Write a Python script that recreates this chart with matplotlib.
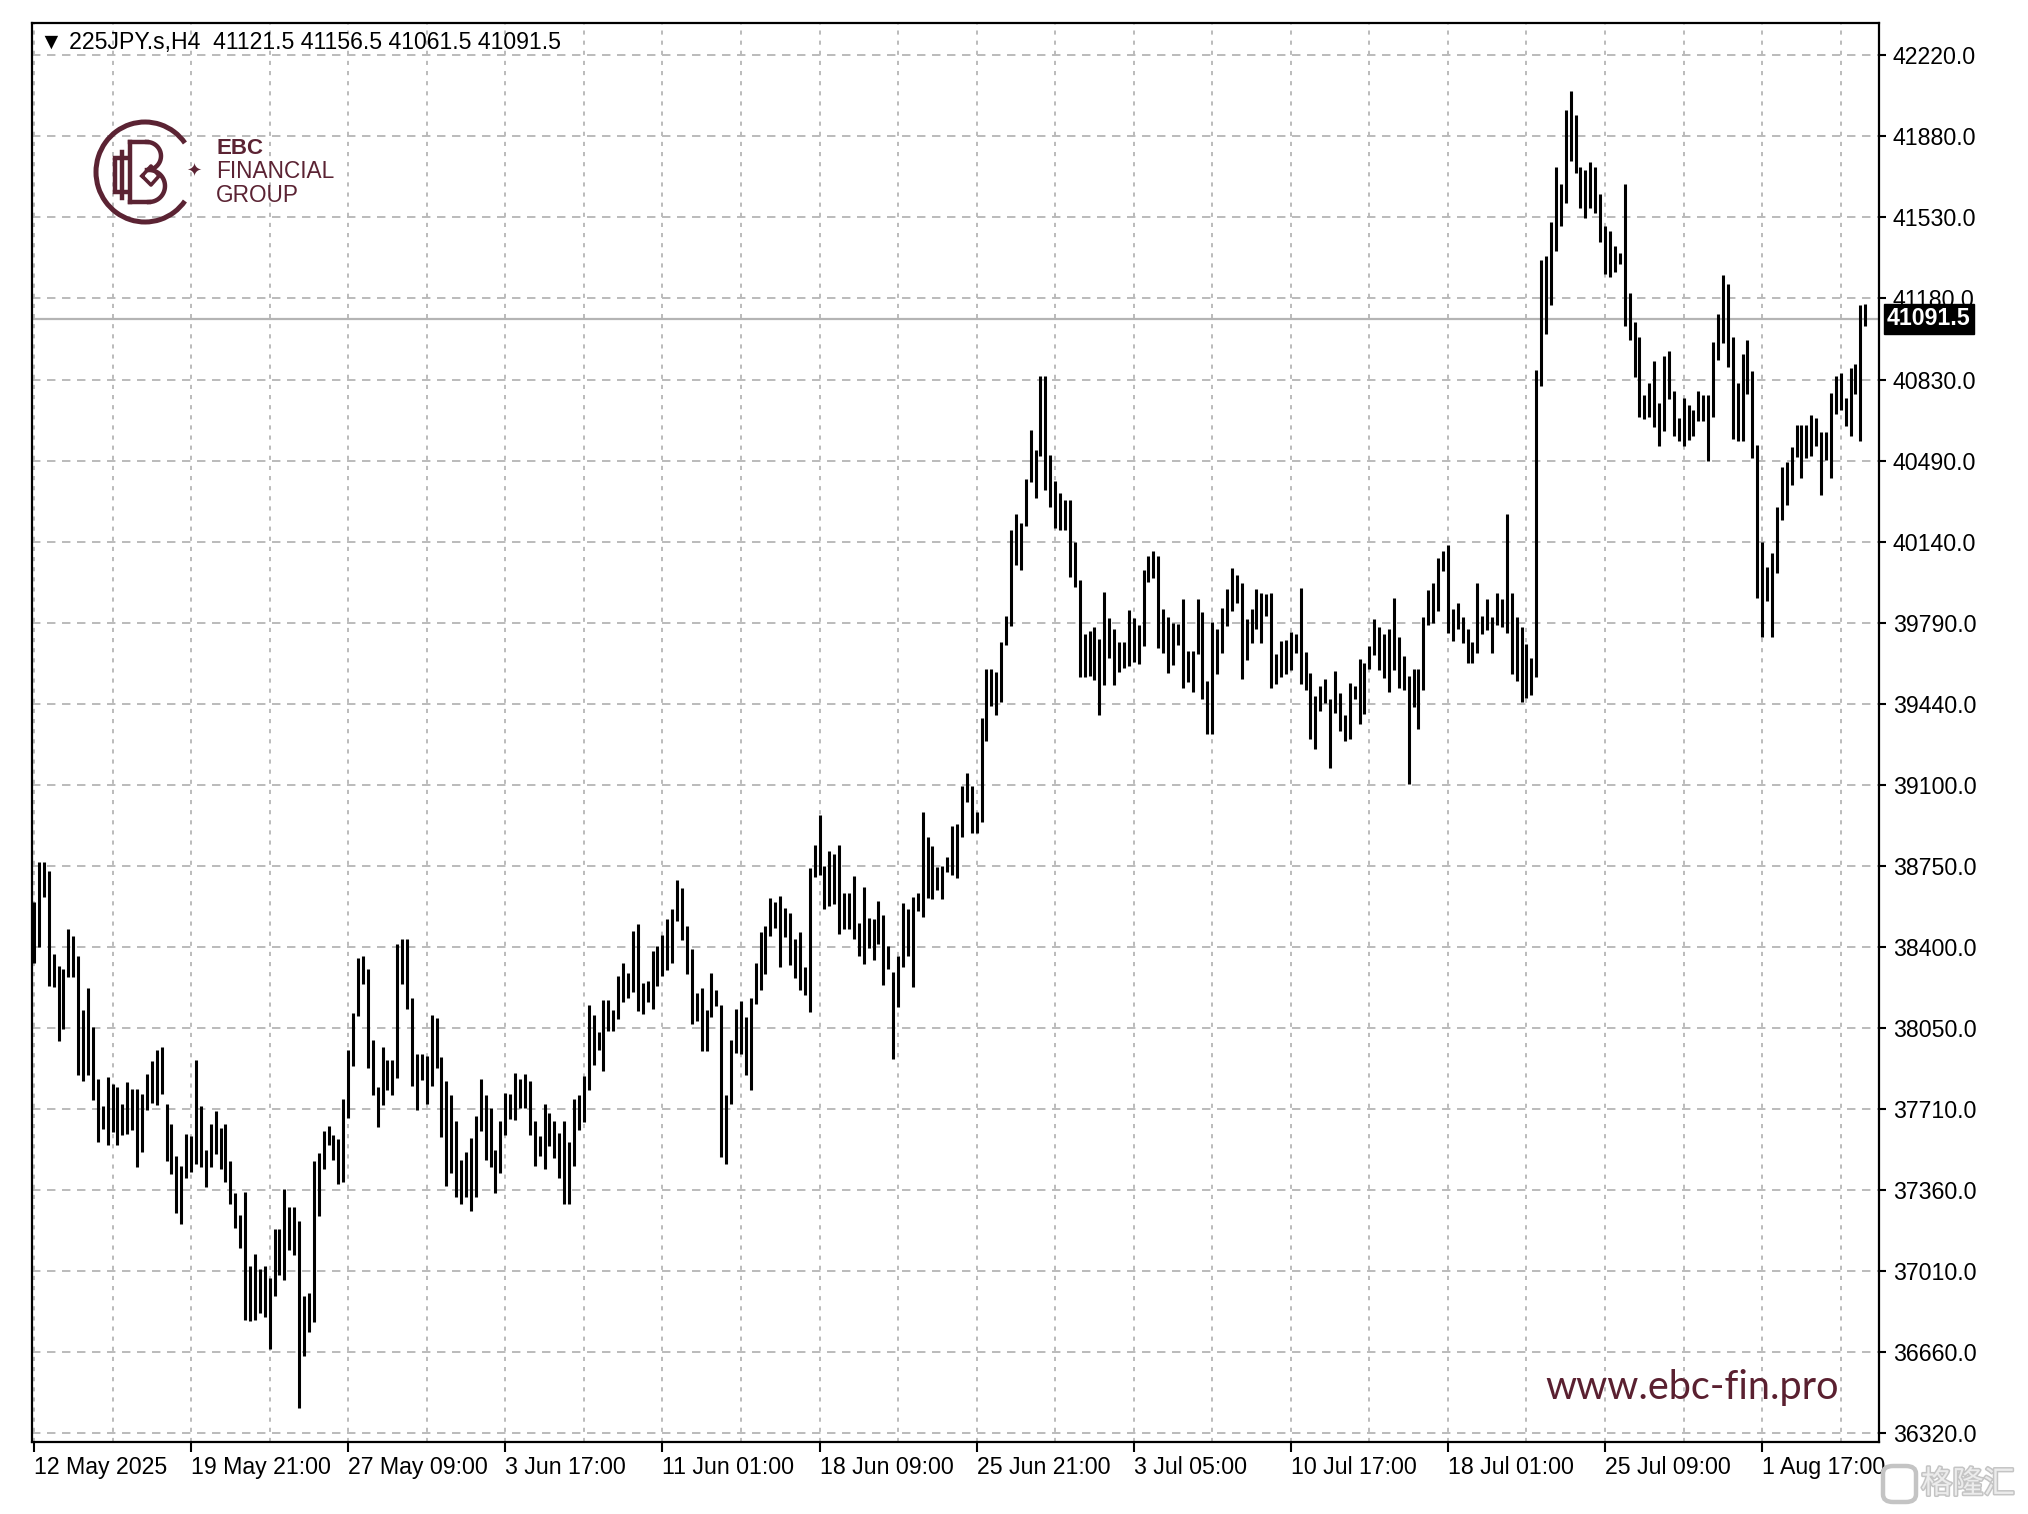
import matplotlib
matplotlib.use('Agg')
import matplotlib.pyplot as plt
import matplotlib.transforms as mtransforms
import matplotlib.patheffects as pe
from matplotlib.patches import Arc, FancyBboxPatch
import numpy as np

plt.rcParams['font.family'] = ['Liberation Sans', 'DejaVu Sans']

# ---------------- data ----------------
symbol = "225JPY.s,H4"
last_ohlc = [41121.5, 41156.5, 41061.5, 41091.5]
last_price = 41091.5

highs = [
    38594, 38765, 38765, 38728, 38372, 38321, 38308, 38480, 38448, 38362,
    38131, 38226, 38058, 37836, 37722, 37846, 37817, 37804, 37730, 37825,
    37793, 37793, 37773, 37857, 37912, 37963, 37972, 37730, 37646, 37508,
    37465, 37603, 37595, 37920, 37722, 37532, 37646, 37698, 37627, 37646,
    37487, 37349, 37254, 37354, 37037, 37088, 37025, 37037, 36985, 37194,
    37194, 37365, 37291, 37291, 37227, 36906, 36922, 37487, 37519, 37614,
    37635, 37598, 37582, 37750, 37960, 38121, 38353, 38362, 38308, 38004,
    37804, 37972, 37920, 37920, 38416, 38438, 38438, 38185, 37942, 37942,
    37935, 38109, 38099, 37932, 37828, 37767, 37657, 37490, 37524, 37585,
    37678, 37838, 37767, 37714, 37532, 37657, 37775, 37771, 37861, 37835,
    37857, 37828, 37657, 37595, 37732, 37692, 37657, 37607, 37657, 37567,
    37752, 37767, 37849, 38152, 38109, 38038, 38175, 38175, 38132, 38278,
    38332, 38292, 38471, 38499, 38249, 38256, 38385, 38406, 38452, 38523,
    38563, 38689, 38656, 38492, 38395, 38206, 38228, 38132, 38289, 38218,
    38152, 37767, 38006, 38135, 38171, 38104, 38185, 38335, 38466, 38492,
    38613, 38595, 38622, 38571, 38548, 38436, 38465, 38315, 38741, 38839,
    38969, 38750, 38812, 38801, 38839, 38633, 38633, 38705, 38503, 38660,
    38526, 38521, 38600, 38539, 38405, 38297, 38365, 38589, 38566, 38615,
    38633, 38980, 38875, 38835, 38745, 38750, 38786, 38920, 38929, 39092,
    39148, 39092, 38980, 39383, 39592, 39592, 39578, 39708, 39820, 40189,
    40257, 40219, 40407, 40615, 40532, 40845, 40845, 40510, 40398, 40346,
    40317, 40317, 40138, 39972, 39742, 39753, 39771, 39719, 39921, 39809,
    39764, 39708, 39708, 39847, 39809, 39780, 40016, 40076, 40098, 40076,
    39848, 39817, 39788, 39784, 39891, 39670, 39670, 39891, 39837, 39541,
    39794, 39762, 39855, 39934, 40026, 39993, 39962, 39805, 39848, 39934,
    39919, 39912, 39919, 39655, 39712, 39716, 39751, 39741, 39941, 39665,
    39574, 39476, 39519, 39551, 39465, 39584, 39491, 39394, 39531, 39519,
    39637, 39617, 39691, 39805, 39774, 39741, 39762, 39898, 39731, 39648,
    39562, 39591, 39594, 39817, 39931, 39962, 40069, 40098, 40122, 39848,
    39876, 39817, 39762, 39708, 39962, 39819, 39891, 39817, 39919, 39891,
    40255, 39919, 39813, 39773, 39700, 39638, 40874, 41342, 41361, 41508,
    41741, 41667, 41984, 42068, 41963, 41741, 41730, 41762, 41741, 41624,
    41488, 41466, 41402, 41374, 41667, 41203, 41080, 41012, 40764, 40816,
    40911, 40732, 40933, 40954, 40784, 40668, 40752, 40721, 40700, 40784,
    40764, 40764, 40993, 41112, 41279, 41239, 41012, 40816, 40943, 41001,
    40867, 40553, 40134, 40027, 40090, 40288, 40458, 40478, 40542, 40637,
    40637, 40637, 40680, 40668, 40605, 40605, 40775, 40848, 40859, 40752,
    40879, 40898, 41149, 41156.5,
]

lows = [
    38332, 38403, 38617, 38237, 38229, 37999, 38052, 38273, 38273, 37852,
    37830, 37852, 37746, 37567, 37622, 37556, 37611, 37556, 37598, 37603,
    37619, 37460, 37524, 37706, 37735, 37725, 37773, 37484, 37429, 37262,
    37218, 37413, 37437, 37471, 37460, 37376, 37460, 37516, 37452, 37397,
    37302, 37199, 37112, 36806, 36799, 36806, 36837, 36818, 36679, 36906,
    36996, 36977, 37104, 37085, 36430, 36652, 36755, 36795, 37250, 37452,
    37556, 37492, 37386, 37397, 37671, 37893, 38105, 38245, 37884, 37769,
    37630, 37725, 37788, 37769, 37841, 38242, 38135, 37809, 37704, 37832,
    37732, 37809, 37885, 37589, 37380, 37435, 37330, 37300, 37330, 37270,
    37330, 37614, 37492, 37461, 37350, 37435, 37599, 37664, 37661, 37714,
    37714, 37599, 37464, 37509, 37452, 37549, 37500, 37414, 37300, 37300,
    37464, 37618, 37652, 37789, 37899, 37961, 37871, 38042, 38042, 38095,
    38166, 38185, 38209, 38128, 38114, 38166, 38135, 38235, 38278, 38303,
    38335, 38513, 38432, 38285, 38071, 38085, 37956, 37956, 38103, 38149,
    37504, 37475, 37728, 37949, 37942, 37852, 37789, 38156, 38218, 38285,
    38449, 38485, 38315, 38443, 38324, 38271, 38219, 38197, 38123, 38700,
    38712, 38566, 38577, 38588, 38459, 38481, 38481, 38436, 38365, 38331,
    38398, 38347, 38414, 38241, 38309, 37921, 38145, 38315, 38365, 38230,
    38555, 38532, 38611, 38606, 38645, 38606, 38723, 38712, 38696, 38875,
    39025, 38891, 38891, 38936, 39283, 39435, 39395, 39451, 39697, 39775,
    40039, 40017, 40205, 40391, 40324, 40503, 40357, 40286, 40196, 40189,
    40189, 39988, 39943, 39556, 39556, 39563, 39547, 39395, 39524, 39641,
    39524, 39578, 39596, 39607, 39623, 39614, 39691, 39965, 39984, 39684,
    39660, 39577, 39608, 39694, 39513, 39537, 39494, 39655, 39462, 39313,
    39313, 39570, 39660, 39776, 39841, 39874, 39548, 39631, 39705, 39765,
    39705, 39819, 39513, 39527, 39559, 39570, 39588, 39662, 39527, 39502,
    39294, 39251, 39412, 39445, 39170, 39402, 39327, 39284, 39291, 39462,
    39355, 39398, 39591, 39651, 39588, 39555, 39494, 39588, 39513, 39502,
    39098, 39431, 39337, 39502, 39779, 39788, 39841, 40012, 39748, 39712,
    39765, 39702, 39620, 39620, 39662, 39741, 39759, 39660, 39779, 39774,
    39745, 39570, 39540, 39450, 39470, 39480, 39560, 40803, 41028, 41149,
    41382, 41488, 41588, 41767, 41714, 41567, 41524, 41567, 41545, 41421,
    41282, 41271, 41294, 41326, 41060, 41001, 40843, 40673, 40664, 40673,
    40629, 40546, 40610, 40748, 40589, 40569, 40546, 40573, 40589, 40653,
    40653, 40483, 40673, 40917, 40990, 40886, 40578, 40569, 40569, 40768,
    40494, 39896, 39728, 39884, 39728, 40003, 40229, 40296, 40378, 40499,
    40410, 40494, 40505, 40546, 40336, 40486, 40410, 40684, 40700, 40632,
    40589, 40768, 40569, 41061.5,
]

price_labels = ["42220.0", "41880.0", "41530.0", "41180.0", "40830.0", "40490.0",
                "40140.0", "39790.0", "39440.0", "39100.0", "38750.0", "38400.0",
                "38050.0", "37710.0", "37360.0", "37010.0", "36660.0", "36320.0"]

date_labels = ["12 May 2025", "19 May 21:00", "27 May 09:00", "3 Jun 17:00",
               "11 Jun 01:00", "18 Jun 09:00", "25 Jun 21:00", "3 Jul 05:00",
               "10 Jul 17:00", "18 Jul 01:00", "25 Jul 09:00", "1 Aug 17:00"]
bars_per_label = 32
bars_per_grid = 16

# ---------------- figure ----------------
W, H = 2028, 1514
fig = plt.figure(figsize=(W / 100, H / 100), dpi=100)
fig.patch.set_facecolor('white')
L, R, T, B = 32, 1879, 23, 1442
ax = fig.add_axes([L / W, 1 - B / H, (R - L) / W, (B - T) / H])

n = len(highs)
x = np.arange(n)
ax.vlines(x, lows, highs, colors='black', linewidth=2.2, zorder=3)

# y scale (MT4 style evenly spaced levels)
ytop, ybot = 42220.0, 36320.0
yt = np.linspace(ytop, ybot, len(price_labels))
step = (ytop - ybot) / (len(price_labels) - 1)
ax.set_ylim(ybot - 0.107 * step, ytop + 0.398 * step)
ax.set_xlim(-0.4, 375.8)

fs = 16.7
ax.set_yticks(yt)
ax.set_yticklabels(price_labels)
major_x = np.arange(len(date_labels)) * bars_per_label
ax.set_xticks(major_x)
ax.set_xticklabels(date_labels)
ax.set_xticks(np.arange(bars_per_grid, n, bars_per_label), minor=True)
for lab in ax.get_xticklabels():
    lab.set_horizontalalignment('left')

gc = '#b8b8b8'
ax.grid(axis='y', which='major', color=gc, linestyle=(0, (4.5, 3.5)), linewidth=1.35, zorder=0)
ax.grid(axis='x', which='both', color=gc, linestyle=(0, (2.2, 3.2)), linewidth=1.35, zorder=0)

ax.yaxis.tick_right()
ax.tick_params(axis='y', which='both', left=False, right=True, labelleft=False,
               labelright=True, length=5, width=1.5, pad=5, labelsize=fs,
               colors='black')
ax.tick_params(axis='x', which='major', length=7, width=1.5, pad=3,
               labelsize=fs, direction='out')
ax.tick_params(axis='x', which='minor', length=0)

for s in ax.spines.values():
    s.set_linewidth(1.6)
    s.set_color('black')

# current price line and label
ax.axhline(last_price, color='#b4b4b4', linewidth=1.6, zorder=1)
trans = mtransforms.blended_transform_factory(ax.transAxes, ax.transData)
ax.text(1.0 + 8 / (R - L), last_price, f"{last_price:.1f}", transform=trans,
        ha='left', va='center', color='white', fontsize=fs, fontweight='bold',
        bbox=dict(boxstyle='square,pad=0.15', fc='black', ec='black'),
        zorder=10, clip_on=False)

# header
header = "\u25BC " + symbol + "  " + " ".join(f"{v:.1f}" for v in last_ohlc)
ax.text(8 / (R - L), 1 - (43 - T) / (B - T), header, transform=ax.transAxes,
        ha='left', va='center', fontsize=16.6, color='black', zorder=10)

# ---------------- EBC logo ----------------
maroon = '#5b2333'
cx, cy = 145, 172
lax = fig.add_axes([(cx - 60) / W, 1 - (cy + 60) / H, 120 / W, 120 / H])
lax.set_xlim(-60, 60)
lax.set_ylim(-60, 60)
lax.axis('off')
lax.add_patch(Arc((0, 0), 98, 100, theta1=36, theta2=324, lw=3.6, color=maroon))
lw = 3.2
# stylised "E"
lax.plot([-30, -30], [14, -20], color=maroon, lw=lw, solid_capstyle='butt')
lax.plot([-30, -19], [14, 14], color=maroon, lw=lw)
lax.plot([-30, -19], [-20, -20], color=maroon, lw=lw)
lax.plot([-23, -23], [20, -26], color=maroon, lw=lw)
# stylised "B"
lax.plot([-15, -15], [30, -30], color=maroon, lw=lw)
lax.plot([-15, 2], [30, 30], color=maroon, lw=lw)
tt = np.linspace(np.pi / 2, -np.pi / 2, 30)
lax.plot(2 + 14 * np.cos(tt), 16 + 14 * np.sin(tt), color=maroon, lw=lw)
lax.plot([-15, 4], [-30, -30], color=maroon, lw=lw)
tt2 = np.linspace(-np.pi / 2, np.pi / 2, 30)
lax.plot(4 + 16 * np.cos(tt2), -14 + 16 * np.sin(tt2), color=maroon, lw=lw)
lax.plot([-3, 6, 14, 6, -3], [-4, 6, -4, -13, -4], color=maroon, lw=2.6)
lax.text(49, 0, "\u2726", fontsize=13, color=maroon, ha='center', va='center',
         family='DejaVu Sans')

fig.text(216 / W, 1 - 149 / H, "EBC", fontsize=16, fontweight='bold', color=maroon,
         va='center', ha='left')
fig.text(216 / W, 1 - 172 / H, "FINANCIAL", fontsize=16.3, color=maroon,
         va='center', ha='left')
fig.text(216 / W, 1 - 195 / H, "GROUP", fontsize=16.3, color=maroon,
         va='center', ha='left')

# website watermark
fig.text(1692 / W, 1 - 1388 / H, "www.ebc-fin.pro", fontsize=28.5, color='#5a2030',
         ha='center', va='center', family=['Lato', 'DejaVu Sans'])

# gelonghui watermark (bottom-right)
wm = '#c4c4c4'
fig.patches.append(FancyBboxPatch((1883 / W, 1 - 1502 / H), 33 / W, 36 / H,
                                  boxstyle='round,pad=0,rounding_size=0.005',
                                  fill=False, ec=wm, lw=3.2, transform=fig.transFigure,
                                  figure=fig))
fig.text(1921 / W, 1 - 1484 / H, "格隆汇", fontsize=22.5, color='#ececec',
         family=['Noto Sans CJK SC', 'DejaVu Sans'], va='center', ha='left',
         path_effects=[pe.withStroke(linewidth=2.2, foreground=wm)])

fig.savefig('out.png', dpi=100, facecolor='white')
